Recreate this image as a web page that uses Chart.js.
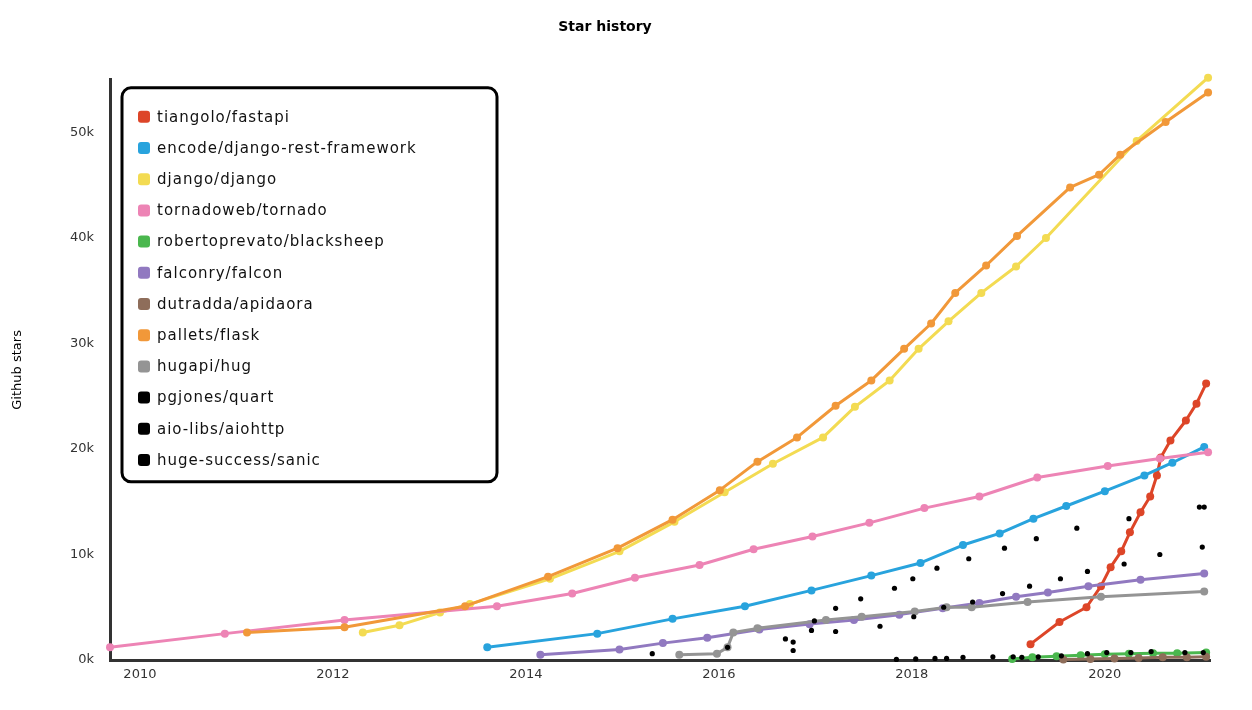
<!DOCTYPE html>
<html>
<head>
<meta charset="utf-8">
<title>Star history</title>
<script src="https://cdn.jsdelivr.net/npm/chart.js@4.4.1/dist/chart.umd.min.js"></script>
<style>
body { margin: 0; background: #fff; }
canvas { display: block; }
</style>
</head>
<body>
<canvas id="starChart" width="1252" height="710"></canvas>
<script>
// axis ticks
var xTicks = [2010, 2012, 2014, 2016, 2018, 2020];
var xTickLabels = ['2010', '2012', '2014', '2016', '2018', '2020'];
var yTicks = [0, 10000, 20000, 30000, 40000, 50000];
var yTickLabels = ['0k', '10k', '20k', '30k', '40k', '50k'];

var repoNames = [
    'tiangolo/fastapi', 'encode/django-rest-framework', 'django/django',
    'tornadoweb/tornado', 'robertoprevato/blacksheep', 'falconry/falcon',
    'dutradda/apidaora', 'pallets/flask', 'hugapi/hug',
    'pgjones/quart', 'aio-libs/aiohttp', 'huge-success/sanic'
];
var repoColors = [
    '#dd4528', '#28a3dd', '#f3db52', '#ed84b5', '#4ab74e', '#9179c0',
    '#8e6d5a', '#f19839', '#949494', '#000000', '#000000', '#000000'
];

// [year, stars]
var fastapi = [[2019.23,1500],[2019.53,3600],[2019.81,5000],[2019.96,7000],[2020.06,8800],[2020.17,10300],
    [2020.26,12100],[2020.37,14000],[2020.47,15500],[2020.54,17500],[2020.58,19200],[2020.68,20800],
    [2020.84,22700],[2020.95,24300],[2021.05,26200]];
var drf = [[2013.60,1200],[2014.74,2500],[2015.52,3900],[2016.27,5100],[2016.96,6600],[2017.58,8000],
    [2018.09,9200],[2018.53,10900],[2018.91,12000],[2019.26,13400],[2019.60,14600],[2020.00,16000],
    [2020.41,17500],[2020.70,18700],[2021.03,20200]];
var django = [[2012.31,2600],[2012.69,3300],[2013.11,4500],[2013.42,5300],[2014.25,7700],[2014.97,10300],
    [2015.54,13100],[2016.06,15900],[2016.56,18600],[2017.08,21100],[2017.41,24000],[2017.77,26500],
    [2018.07,29500],[2018.38,32100],[2018.72,34800],[2019.08,37300],[2019.39,40000],[2020.33,49200],
    [2021.07,55200]];
var tornado = [[2009.69,1200],[2010.88,2500],[2012.12,3800],[2013.70,5100],[2014.48,6300],[2015.13,7800],
    [2015.80,9000],[2016.36,10500],[2016.97,11700],[2017.56,13000],[2018.13,14400],[2018.70,15500],
    [2019.30,17300],[2020.03,18400],[2020.57,19100],[2021.07,19700]];
var blacksheep = [[2019.04,100],[2019.25,250],[2019.50,350],[2019.75,450],[2020.00,550],[2020.25,600],
    [2020.50,650],[2020.75,650],[2021.05,700]];
var falcon = [[2014.15,500],[2014.97,1000],[2015.42,1600],[2015.88,2100],[2016.42,2900],[2016.94,3400],
    [2017.40,3800],[2017.87,4300],[2018.32,4900],[2018.70,5400],[2019.08,6000],[2019.41,6400],
    [2019.83,7000],[2020.37,7600],[2021.03,8200]];
var apidaora = [[2019.57,50],[2019.85,100],[2020.10,150],[2020.35,200],[2020.60,250],[2020.85,250],
    [2021.05,300]];
var flask = [[2011.11,2600],[2012.12,3100],[2013.37,5100],[2014.23,7900],[2014.95,10600],[2015.52,13300],
    [2016.01,16100],[2016.40,18800],[2016.81,21100],[2017.21,24100],[2017.58,26500],[2017.92,29500],
    [2018.20,31900],[2018.45,34800],[2018.77,37400],[2019.09,40200],[2019.64,44800],[2019.94,46000],
    [2020.16,47900],[2020.63,51000],[2021.07,53800]];
var hug = [[2015.59,500],[2015.98,600],[2016.09,1200],[2016.15,2600],[2016.40,3000],[2017.11,3800],
    [2017.48,4100],[2018.03,4600],[2018.36,5000],[2018.62,5000],[2019.20,5500],[2019.96,6000],
    [2021.03,6500]];
var quart = [[2017.84,50],[2018.04,100],[2018.24,150],[2018.36,150],[2018.53,250],[2018.84,300],
    [2019.05,300],[2019.14,250],[2019.31,300],[2019.55,400],[2019.82,600],[2020.02,700],
    [2020.27,700],[2020.48,800],[2020.83,700],[2021.02,700]];
var aiohttp = [[2015.31,600],[2016.09,1200],[2016.96,2800],[2017.21,2700],[2017.67,3200],[2018.02,4100],
    [2018.33,5000],[2018.63,5500],[2018.94,6300],[2019.22,7000],[2019.54,7700],[2019.82,8400],
    [2020.20,9100],[2020.57,10000],[2021.01,10700]];
var sanic = [[2016.77,900],[2016.77,1700],[2016.69,2000],[2016.99,3700],[2017.21,4900],[2017.47,5800],
    [2017.82,6800],[2018.01,7700],[2018.26,8700],[2018.59,9600],[2018.96,10600],[2019.29,11500],
    [2019.71,12500],[2020.25,13400],[2020.98,14500],[2021.03,14500]];

var seriesData = [fastapi, drf, django, tornado, blacksheep, falcon, apidaora, flask, hug, quart, aiohttp, sanic];

function toPoints(list)
{
    return list.map(function(p) { return {x: p[0], y: p[1]}; });
}

function roundRect(ctx, x, y, w, h, r)
{
    ctx.beginPath();
    ctx.moveTo(x + r, y);
    ctx.lineTo(x + w - r, y);
    ctx.arcTo(x + w, y, x + w, y + r, r);
    ctx.lineTo(x + w, y + h - r);
    ctx.arcTo(x + w, y + h, x + w - r, y + h, r);
    ctx.lineTo(x + r, y + h);
    ctx.arcTo(x, y + h, x, y + h - r, r);
    ctx.lineTo(x, y + r);
    ctx.arcTo(x, y, x + r, y, r);
    ctx.closePath();
}

// boxed legend in the top left of the plot, like the xkcd chart
var legendBox = {
    id: 'legendBox',
    afterDraw: function(chart) {
        var ctx = chart.ctx, area = chart.chartArea;
        var left = area.left + 12, top = area.top + 8;
        ctx.save();
        roundRect(ctx, left, top, 375, 394, 9);
        ctx.fillStyle = '#fff';
        ctx.fill();
        ctx.lineWidth = 3;
        ctx.strokeStyle = '#000';
        ctx.stroke();
        ctx.font = '15px "DejaVu Sans"';
        if ('letterSpacing' in ctx) ctx.letterSpacing = '1px';
        ctx.textBaseline = 'middle';
        chart.data.datasets.forEach(function(ds, i) {
            var cy = top + 29 + i * 31.2;
            roundRect(ctx, left + 16, cy - 6, 12, 12, 3);
            ctx.fillStyle = ds.borderColor;
            ctx.fill();
            ctx.fillStyle = '#111';
            ctx.fillText(ds.label, left + 35, cy + 1);
        });
        ctx.restore();
    }
};

var datasets = seriesData.map(function(list, i) {
    var isLine = repoColors[i] != '#000000';
    return {
        label: repoNames[i],
        data: toPoints(list),
        borderColor: repoColors[i],
        backgroundColor: repoColors[i],
        pointBackgroundColor: repoColors[i],
        pointBorderWidth: 0,
        pointRadius: isLine ? 4 : 2.6,
        borderWidth: 3,
        borderCapStyle: 'round',
        borderJoinStyle: 'round',
        showLine: isLine,
        tension: 0,
        clip: false,
        order: seriesData.length - i
    };
});

new Chart(document.getElementById('starChart'), {
    type: 'scatter',
    data: { datasets: datasets },
    plugins: [legendBox],
    options: {
        responsive: false,
        animation: false,
        events: [],
        layout: { padding: { top: 0, right: 42, bottom: 0, left: 0 } },
        plugins: {
            legend: { display: false },
            tooltip: { enabled: false },
            title: {
                display: true,
                text: 'Star history',
                color: '#000',
                font: { family: 'DejaVu Sans', size: 14, weight: 'bold' },
                padding: { top: 19, bottom: 44 }
            }
        },
        scales: {
            x: {
                type: 'linear',
                min: 2009.69,
                max: 2021.09,
                afterBuildTicks: function(scale) {
                    scale.ticks = xTicks.map(function(v) { return {value: v}; });
                },
                afterFit: function(scale) { scale.height = 50; },
                grid: { color: 'transparent', drawTicks: false },
                border: { display: true, color: '#333', width: 3 },
                ticks: {
                    autoSkip: false,
                    maxRotation: 0,
                    padding: 7,
                    color: '#333',
                    font: { family: 'DejaVu Sans', size: 13 },
                    callback: function(value) {
                        var k = xTicks.indexOf(value);
                        return k >= 0 ? xTickLabels[k] : '';
                    }
                }
            },
            y: {
                type: 'linear',
                min: 0,
                max: 55000,
                afterBuildTicks: function(scale) {
                    scale.ticks = yTicks.map(function(v) { return {value: v}; });
                },
                afterFit: function(scale) { scale.width = 110; },
                grid: { color: 'transparent', drawTicks: false },
                border: { display: true, color: '#333', width: 3 },
                title: {
                    display: true,
                    text: 'Github stars',
                    color: '#000',
                    font: { family: 'DejaVu Sans', size: 13 },
                    padding: { top: 10, bottom: 4 }
                },
                ticks: {
                    padding: 16,
                    color: '#333',
                    font: { family: 'DejaVu Sans', size: 13 },
                    callback: function(value) {
                        var k = yTicks.indexOf(value);
                        return k >= 0 ? yTickLabels[k] : '';
                    }
                }
            }
        }
    }
});
</script>
</body>
</html>
